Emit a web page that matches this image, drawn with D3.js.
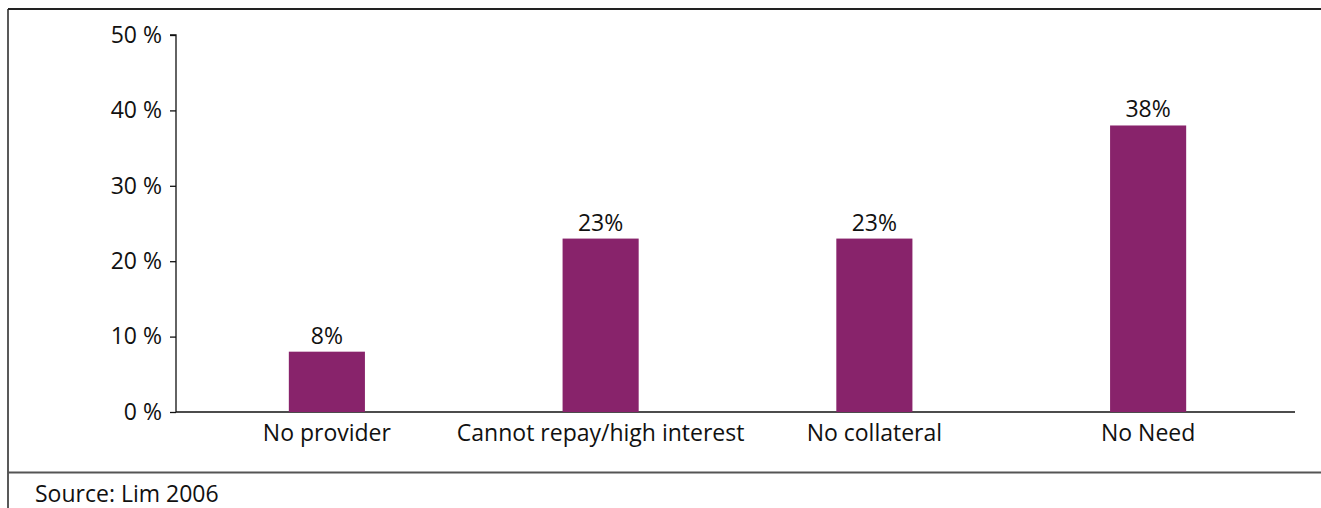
<!DOCTYPE html>
<html>
<head>
<meta charset="utf-8">
<script src="https://cdn.jsdelivr.net/npm/d3@7"></script>
<style>
  body { margin: 0; background: #fff; }
  svg text { font-family: "Open Sans", sans-serif; fill: #111; }
</style>
</head>
<body>
<svg id="chart" width="1321" height="508"></svg>
<script>
// data
const categories = ["No provider", "Cannot repay/high interest", "No collateral", "No Need"]
const values = [8, 23, 23, 38]
const yTicks = [0, 10, 20, 30, 40, 50]
const source = "Source: Lim 2006"

const width = 1321, height = 508
const fontSize = "23px"
const svg = d3.select("#chart")

// frame lines
svg.append("line").attr("x1", 8).attr("x2", width).attr("y1", 9).attr("y2", 9)
  .attr("stroke", "#222").attr("stroke-width", 1.8)
svg.append("line").attr("x1", 8).attr("x2", 8).attr("y1", 9).attr("y2", height)
  .attr("stroke", "#222").attr("stroke-width", 1.5)
svg.append("line").attr("x1", 8).attr("x2", width).attr("y1", 472.5).attr("y2", 472.5)
  .attr("stroke", "#555").attr("stroke-width", 2)

const x = d3.scaleBand()
  .domain(categories)
  .range([190, 1285])
  .paddingInner(0.722)
  .paddingOuter(0.361)

const y = d3.scaleLinear()
  .domain([0, 50])
  .range([412, 35])

// y axis
const yAxis = svg.append("g")
  .attr("transform", "translate(176,0)")
  .call(d3.axisLeft(y).tickValues(yTicks).tickSize(6).tickPadding(8).tickFormat(d => d + " %"))
yAxis.select(".domain").attr("stroke", "#111").attr("stroke-width", 1.3)
  .attr("d", "M-6," + y(50) + "H0V" + y(0))
yAxis.selectAll(".tick line").attr("stroke", "#111").attr("stroke-width", 1.3)
yAxis.selectAll("text").style("font-size", fontSize).attr("fill", "#111")
  .style("font-family", "'Open Sans', sans-serif")

// x axis line
svg.append("line")
  .attr("x1", 176).attr("x2", 1295)
  .attr("y1", y(0)).attr("y2", y(0))
  .attr("stroke", "#111").attr("stroke-width", 1.3)

// bars
svg.append("g").selectAll("rect")
  .data(values)
  .join("rect")
    .attr("x", (d, i) => x(categories[i]))
    .attr("y", d => y(d))
    .attr("width", x.bandwidth())
    .attr("height", d => y(0) - y(d))
    .attr("fill", "#88236b")

// value labels
svg.append("g").selectAll("text")
  .data(values)
  .join("text")
    .attr("x", (d, i) => x(categories[i]) + x.bandwidth() / 2)
    .attr("y", d => y(d) - 8)
    .attr("text-anchor", "middle")
    .style("font-size", fontSize)
    .text(d => d + "%")

// category labels
svg.append("g").selectAll("text")
  .data(categories)
  .join("text")
    .attr("x", d => x(d) + x.bandwidth() / 2)
    .attr("y", y(0) + 29)
    .attr("text-anchor", "middle")
    .style("font-size", fontSize)
    .text(d => d)

svg.append("text")
  .attr("x", 35).attr("y", 502)
  .style("font-size", fontSize)
  .text(source)
</script>
</body>
</html>
